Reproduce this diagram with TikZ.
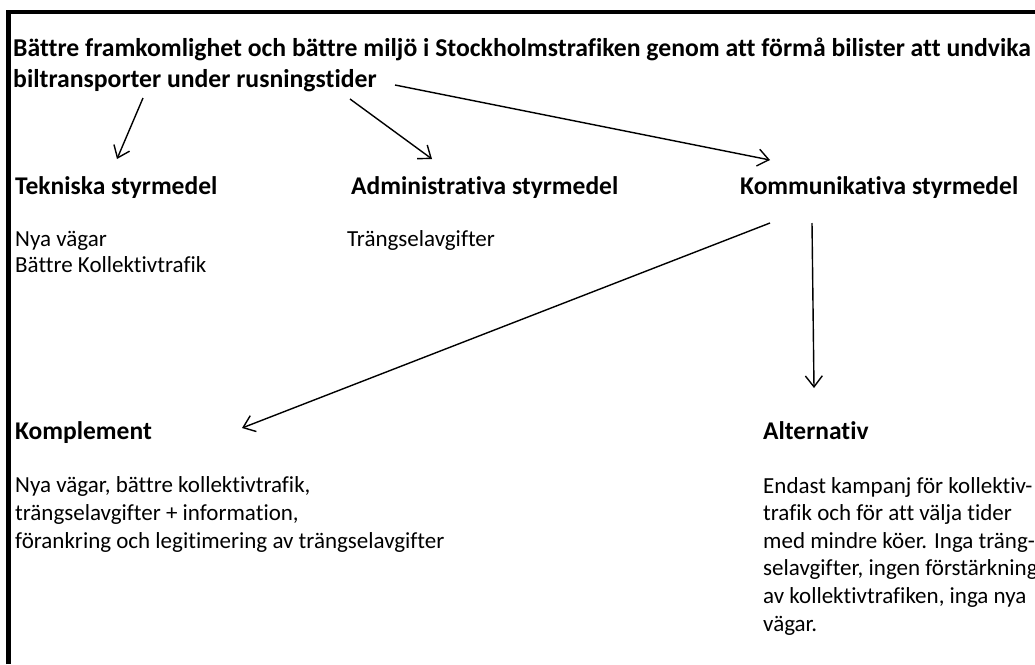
\documentclass[tikz,border=0pt]{standalone}
\usepackage{fontspec}
\setmainfont{Carlito}[Ligatures=NoCommon]
\usetikzlibrary{arrows.meta}
\begin{document}
\begin{tikzpicture}[x=1pt,y=-1pt,
  txt/.style={inner sep=0pt,anchor=base west,align=left},
  ttl/.style={txt,font=\fontsize{25.7}{31}\selectfont\bfseries},
  hd/.style={txt,font=\fontsize{25.5}{28}\selectfont\bfseries},
  bd/.style={txt,font=\fontsize{23}{26}\selectfont},
  bd2/.style={txt,font=\fontsize{23}{27.6}\selectfont},
  arr/.style={line width=1.4pt,-{Straight Barb[length=11pt,width=17pt,line width=1.4pt]}}]
\useasboundingbox (0,0) rectangle (1035,664);
\fill[white] (0,0) rectangle (1035,664);
\draw[line width=4.5pt] (8.5,664) -- (8.5,12) -- (1035,12);
\node[ttl] (title) at (13,87) {Bättre framkomlighet och bättre miljö i Stockholmstrafiken genom att förmå bilister att undvika\\biltransporter under rusningstider};
\node[hd] (tek) at (15,194) {Tekniska styrmedel};
\node[hd] (adm) at (351,194) {Administrativa styrmedel};
\node[hd] (kom) at (740,194) {Kommunikativa styrmedel};
\node[bd] (tekb) at (15,272) {Nya vägar\\Bättre Kollektivtrafik};
\node[bd] (admb) at (347,246) {Trängselavgifter};
\node[hd] (kpl) at (15,439) {Komplement};
\node[hd] (alt) at (763,439) {Alternativ};
\node[bd2] (kplb) at (15,548) {Nya vägar, bättre kollektivtrafik,\\trängselavgifter + information,\\förankring och legitimering av trängselavgifter};
\node[bd2] (altb) at (763,631) {Endast kampanj för kollektiv-\\trafik och för att välja tider\\med mindre köer. Inga träng-\\selavgifter, ingen förstärkning\\av kollektivtrafiken, inga nya\\vägar.};
\coordinate (s1) at (143,98);  \coordinate (e1) at (117,159);
\coordinate (s2) at (350,99);  \coordinate (e2) at (432,159);
\coordinate (s3) at (395,85);  \coordinate (e3) at (770,160);
\coordinate (s4) at (770,223); \coordinate (e4) at (242,428);
\coordinate (s5) at (812,223); \coordinate (e5) at (814,388);
\draw[arr] (s1) -- (e1);
\draw[arr] (s2) -- (e2);
\draw[arr] (s3) -- (e3);
\draw[arr] (s4) -- (e4);
\draw[arr] (s5) -- (e5);
\end{tikzpicture}
\end{document}
